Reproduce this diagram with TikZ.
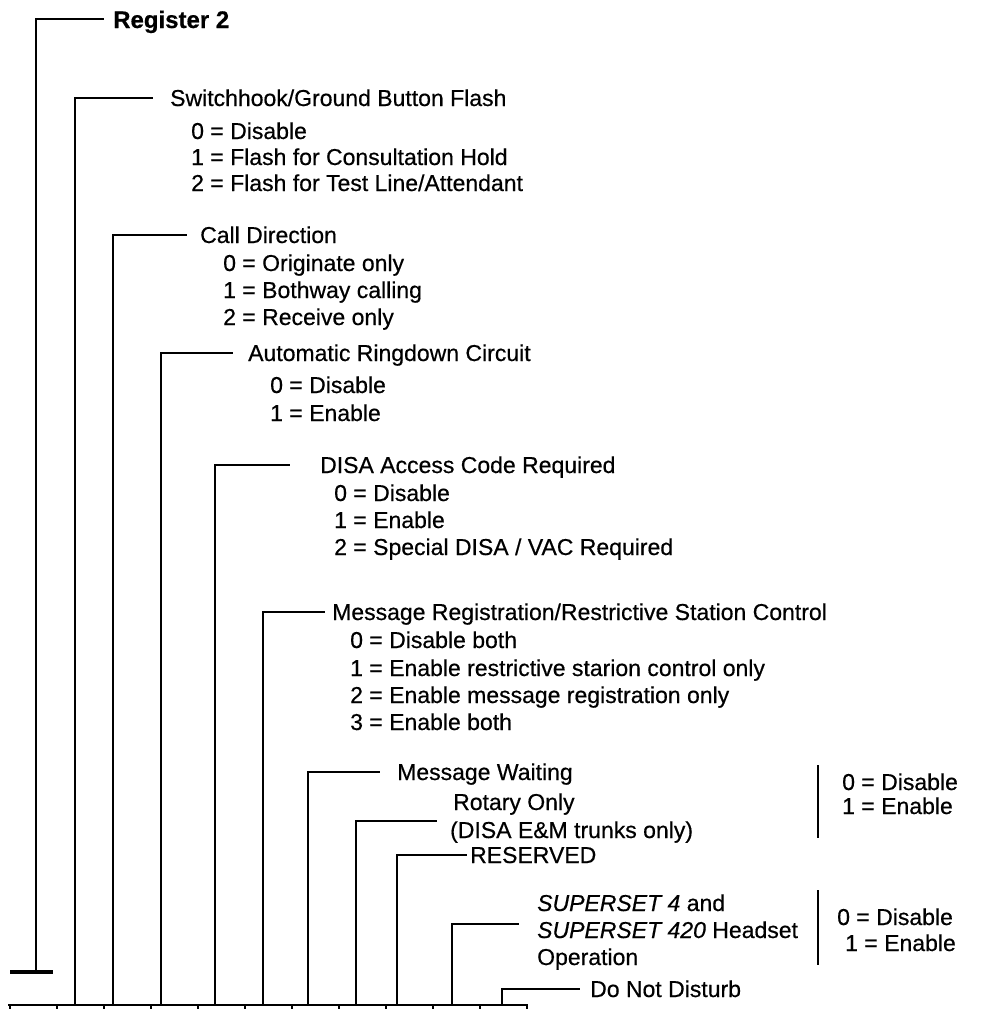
\documentclass[tikz,border=0pt]{standalone}
\usepackage{fontspec}
\setmainfont{Liberation Sans}[FakeBold=0.5]
\begin{document}
\begin{tikzpicture}[x=1pt,y=-1pt,
  ln/.style={line width=2.8pt,line cap=butt,line join=miter},
  lbl/.style={anchor=base west,inner sep=0pt,font=\fontsize{23}{27}\selectfont\addfontfeatures{FakeBold=0.5}},
  ttl/.style={anchor=base west,inner sep=0pt,font=\fontsize{24}{28}\selectfont\bfseries}]
\useasboundingbox (0,0) rectangle (980,1009);
% labels
\node[ttl] (reg) at (113,28) {Register 2};
\node[lbl] (sw) at (170,106) {Switchhook/Ground Button Flash};
\node[lbl] (sw0) at (191,139) {0 = Disable};
\node[lbl] (sw1) at (191,165) {1 = Flash for Consultation Hold};
\node[lbl] (sw2) at (191,191) {2 = Flash for Test Line/Attendant};
\node[lbl] (cd) at (200,243) {Call Direction};
\node[lbl] (cd0) at (223,271) {0 = Originate only};
\node[lbl] (cd1) at (223,298) {1 = Bothway calling};
\node[lbl] (cd2) at (223,325) {2 = Receive only};
\node[lbl] (arc) at (248,361) {Automatic Ringdown Circuit};
\node[lbl] (arc0) at (270,393) {0 = Disable};
\node[lbl] (arc1) at (270,421) {1 = Enable};
\node[lbl] (disa) at (320,473) {DISA Access Code Required};
\node[lbl] (disa0) at (334,501) {0 = Disable};
\node[lbl] (disa1) at (334,528) {1 = Enable};
\node[lbl] (disa2) at (334,555) {2 = Special DISA / VAC Required};
\node[lbl] (mr) at (332,620) {Message Registration/Restrictive Station Control};
\node[lbl] (mr0) at (350,648) {0 = Disable both};
\node[lbl] (mr1) at (350,676) {1 = Enable restrictive starion control only};
\node[lbl] (mr2) at (350,703) {2 = Enable message registration only};
\node[lbl] (mr3) at (350,730) {3 = Enable both};
\node[lbl] (mw) at (397,780) {Message Waiting};
\node[lbl] (ro) at (453,810) {Rotary Only};
\node[lbl] (ro2) at (450,838) {(DISA E\&M trunks only)};
\node[lbl] (res) at (470,863) {RESERVED};
\node[lbl] (ss1) at (537,911) {\textit{SUPERSET 4} and};
\node[lbl] (ss2) at (537,938) {\textit{SUPERSET 420} Headset};
\node[lbl] (ss3) at (537,965) {Operation};
\node[lbl] (dnd) at (590,997) {Do Not Disturb};
\node[lbl] (b1a) at (842,790) {0 = Disable};
\node[lbl] (b1b) at (842,814) {1 = Enable};
\node[lbl] (b2a) at (837,925) {0 = Disable};
\node[lbl] (b2b) at (845,951) {1 = Enable};
% coordinates
\coordinate (regB) at (36,972);   \coordinate (regE) at (104,19);
\coordinate (swB) at (75,1005);   \coordinate (swE) at (153,98);
\coordinate (cdB) at (113,1005);  \coordinate (cdE) at (187,235);
\coordinate (arcB) at (161,1005); \coordinate (arcE) at (233,353);
\coordinate (disaB) at (215,1005);\coordinate (disaE) at (290,465);
\coordinate (mrB) at (263,1005);  \coordinate (mrE) at (325,612);
\coordinate (mwB) at (308,1005);  \coordinate (mwE) at (380,772);
\coordinate (roB) at (356,1005);  \coordinate (roE) at (437,821);
\coordinate (resB) at (397,1005); \coordinate (resE) at (467,855);
\coordinate (ssB) at (452,1005);  \coordinate (ssE) at (519,924);
\coordinate (dndB) at (502,1005); \coordinate (dndE) at (580,989);
\coordinate (axL) at (8,1005);    \coordinate (axR) at (528,1005);
\coordinate (tL) at (10,972);     \coordinate (tR) at (53,972);
\coordinate (k1t) at (818,765);   \coordinate (k1b) at (818,838);
\coordinate (k2t) at (818,890);   \coordinate (k2b) at (818,965);
% connectors
\draw[ln] (regB) |- (regE);
\draw[line width=3.6pt] (tL) -- (tR);
\foreach \n in {sw,cd,arc,disa,mr,mw,ro,res,ss,dnd}
  \draw[ln] (\n B) |- (\n E);
\draw[ln] (axL) -- (axR);
\foreach \i in {0,...,11}
  \draw[line width=2.4pt] (10+47*\i,1005) -- (10+47*\i,1009);
\draw[ln] (k1t) -- (k1b);
\draw[ln] (k2t) -- (k2b);
\end{tikzpicture}
\end{document}
